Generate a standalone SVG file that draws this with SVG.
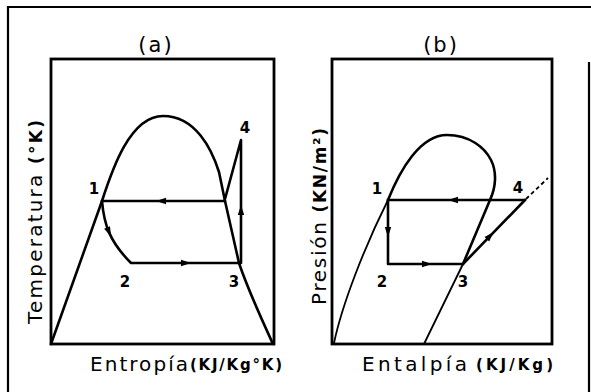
<svg xmlns="http://www.w3.org/2000/svg" width="591" height="392" viewBox="0 0 591 392">
<style>
.frame{fill:none;stroke:#000;stroke-width:2.2}
.box{fill:none;stroke:#000;stroke-width:2.8}
.crv{fill:none;stroke:#000;stroke-width:2.6;stroke-linejoin:round;stroke-linecap:round}
.thin{fill:none;stroke:#000;stroke-width:1.8;stroke-linecap:round}
.dash{fill:none;stroke:#000;stroke-width:1.8;stroke-dasharray:4 3}
.lbl{font-family:"DejaVu Sans",sans-serif;fill:#000}
.num{font-family:"DejaVu Sans",sans-serif;font-weight:bold;font-size:15px;fill:#000;text-anchor:middle}
.ttl{font-family:"DejaVu Sans",sans-serif;font-size:21px;fill:#000;text-anchor:middle;letter-spacing:2px}
</style>
<defs>
<path id="ah" d="M-6,-3.2 L4,0 L-6,3.2 Z" fill="#000"/>
</defs>
<rect width="591" height="392" fill="#fff"/>
<g id="frame">
<path class="frame" d="M8,392 V7 H591"/>
<path class="frame" d="M589,62 V392"/>
</g>
<g id="panel-a">
<rect class="box" x="51" y="59" width="223" height="285"/>
<text class="ttl" x="156" y="52">(a)</text>
<text class="lbl" font-size="20" transform="translate(42,324) rotate(-90)" textLength="204" lengthAdjust="spacing">Temperatura <tspan font-weight="bold" font-size="17">(°K)</tspan></text>
<text class="lbl" font-size="20" x="90" y="371" textLength="98" lengthAdjust="spacing">Entropía</text>
<text class="lbl" font-size="15" font-weight="bold" x="190" y="370" textLength="92" lengthAdjust="spacing">(KJ/Kg°K)</text>
</g>
<g id="panel-b">
<rect class="box" x="332" y="59" width="220" height="285"/>
<text class="ttl" x="441" y="52">(b)</text>
<text class="lbl" font-size="20" transform="translate(326,305) rotate(-90)" textLength="177" lengthAdjust="spacing">Presión <tspan font-weight="bold" font-size="17">(KN/m²)</tspan></text>
<text class="lbl" font-size="20" x="362" y="371" textLength="105" lengthAdjust="spacing">Entalpía</text>
<text class="lbl" font-size="15" font-weight="bold" x="476" y="370" textLength="77" lengthAdjust="spacing">(KJ/Kg)</text>
</g>
<g id="connectors">
<!-- panel a -->
<path class="crv" d="M51,344 L102,201 C112,170 130,116 163,116 C196,116 212,150 219,172 L225,201 L239,263 C248,290 262,320 273,344"/>
<path class="crv" d="M102,201 H225"/>
<path class="crv" d="M225,199 L241,140 L241,263"/>
<path class="crv" d="M102,201 C104,225 110,242 131,263 H240"/>
<use href="#ah" transform="translate(160,201) rotate(180)"/>
<use href="#ah" transform="translate(187,263)"/>
<use href="#ah" transform="translate(241,209) rotate(-90)"/>
<use href="#ah" transform="translate(109.5,233) rotate(66)"/>
<!-- panel b -->
<path class="thin" d="M334,343 C342,305 364,248 388,200"/>
<path class="crv" d="M388,200 C400,170 420,135 447,135 C470,135 485,148 491,160 C497,172 496,187 490,200 L463,264"/>
<path class="thin" d="M463,264 L424,344"/>
<path class="crv" d="M388,200 H525"/>
<path class="crv" d="M388,200 V264 H463 L525,200"/>
<path class="dash" d="M526,199 L548,178"/>
<use href="#ah" transform="translate(452,200) rotate(180)"/>
<use href="#ah" transform="translate(388,233) rotate(90)"/>
<use href="#ah" transform="translate(428,264)"/>
<use href="#ah" transform="translate(491,235) rotate(-46)"/>
</g>
<g id="points">
<text class="num" x="94" y="194">1</text>
<text class="num" x="125" y="287">2</text>
<text class="num" x="234" y="287">3</text>
<text class="num" x="245" y="133">4</text>
<text class="num" x="377" y="194">1</text>
<text class="num" x="382" y="287">2</text>
<text class="num" x="463" y="287">3</text>
<text class="num" x="518" y="193">4</text>
</g>
</svg>
